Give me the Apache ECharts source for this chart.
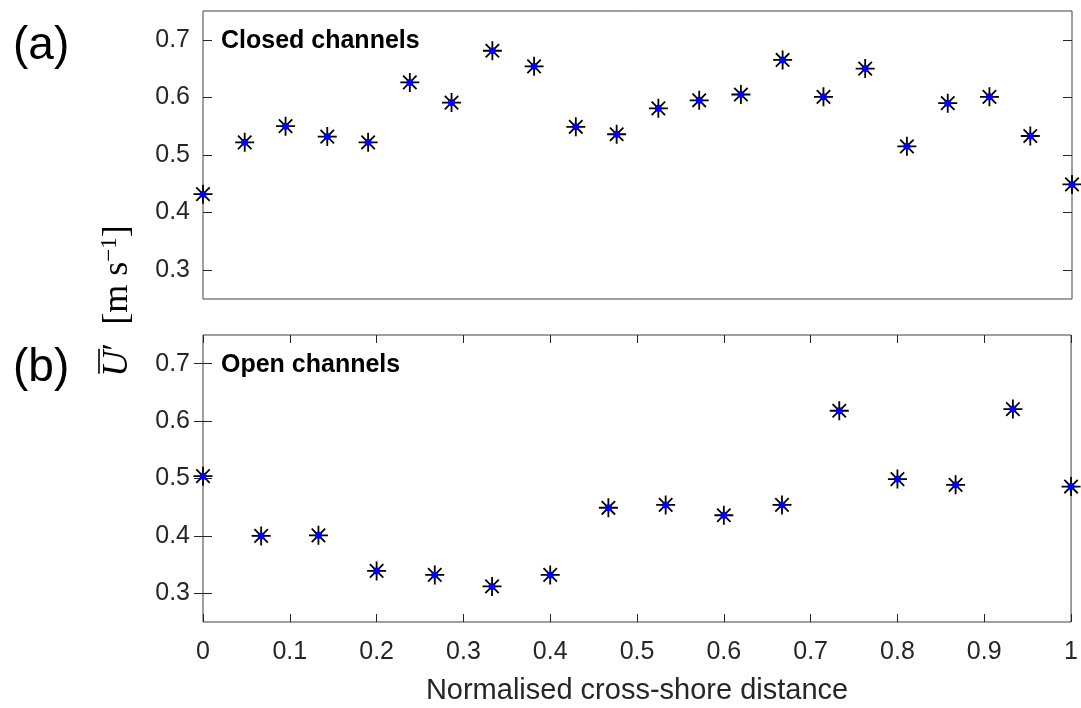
<!DOCTYPE html>
<html>
<head>
<meta charset="utf-8">
<script src="https://cdn.jsdelivr.net/npm/echarts@6/dist/echarts.min.js"></script>
<style>
  html, body { margin: 0; padding: 0; background: #fff; }
  #chart { width: 1081px; height: 708px; }
</style>
</head>
<body>
<div id="chart"></div>
<script>
// normalised cross-shore position of each channel
const closedX = [0, 0.048, 0.095, 0.143, 0.190, 0.238, 0.286, 0.333, 0.381, 0.429, 0.476,
  0.524, 0.571, 0.619, 0.667, 0.714, 0.762, 0.810, 0.857, 0.905, 0.952, 1]
const closedU = [0.432, 0.522, 0.550, 0.532, 0.522, 0.626, 0.591, 0.681, 0.654, 0.549, 0.536,
  0.581, 0.595, 0.605, 0.665, 0.601, 0.650, 0.515, 0.590, 0.601, 0.533, 0.449]

const openX = [0, 0.067, 0.133, 0.2, 0.267, 0.333, 0.4, 0.467, 0.533, 0.6, 0.667, 0.733,
  0.8, 0.867, 0.933, 1]
const openU = [0.504, 0.400, 0.401, 0.339, 0.332, 0.312, 0.332, 0.449, 0.454, 0.436, 0.454,
  0.618, 0.499, 0.489, 0.621, 0.486]

const yTicks = [0.3, 0.4, 0.5, 0.6, 0.7]

const axisColor = '#262626'
const star = 'path://M10,0L10,20M0,10L20,10M2.93,2.93L17.07,17.07M2.93,17.07L17.07,2.93'

const chart = echarts.init(document.getElementById('chart'))

const pairs = (xs, ys) => xs.map((x, i) => [x, ys[i]])

const yAxisFor = (gridIndex, position) => ({
  type: 'value',
  gridIndex: gridIndex,
  position: position,
  min: 0.25,
  max: 0.75,
  axisLine: { show: false },
  splitLine: { show: false },
  axisTick: {
    show: true, inside: true, length: 9,
    customValues: yTicks,
    lineStyle: { color: axisColor, width: 1 }
  },
  axisLabel: {
    show: position === 'left',
    customValues: yTicks,
    color: axisColor,
    fontSize: 25,
    fontFamily: 'Liberation Sans',
    margin: 13
  }
})

const starSeries = (xAxisIndex, yAxisIndex, data) => ({
  type: 'scatter',
  xAxisIndex: xAxisIndex,
  yAxisIndex: yAxisIndex,
  data: data,
  clip: false,
  symbol: star,
  symbolSize: 19,
  itemStyle: { color: 'rgba(0,0,0,0)', borderColor: '#000', borderWidth: 1.8, opacity: 1 },
  emphasis: { disabled: true },
  z: 3
})

const dotSeries = (xAxisIndex, yAxisIndex, data) => ({
  type: 'scatter',
  xAxisIndex: xAxisIndex,
  yAxisIndex: yAxisIndex,
  data: data,
  clip: false,
  symbol: 'circle',
  symbolSize: 7,
  itemStyle: { color: '#0000ff', opacity: 1 },
  emphasis: { disabled: true },
  z: 4
})

// y label  U-bar' [m s^-1], built as a rotated group of text pieces
const ctx = document.createElement('canvas').getContext('2d')
const measure = (text, font) => { ctx.font = font; return ctx.measureText(text).width }
const fIt = 'italic 36px "Liberation Serif"'
const fUp = '36px "Liberation Serif"'
const fSup = '23px "Liberation Serif"'
const pieces = [
  { t: 'U', f: fIt, base: 0 },
  { t: '\u2032', f: fUp, base: 0 },
  { t: '  [m s', f: fUp, base: 0 },
  { t: '\u22121', f: fSup, base: -15 },
  { t: ']', f: fUp, base: 0 }
]
const total = pieces.reduce((s, p) => s + measure(p.t, p.f), 0)
let cursor = -total / 2
const labelChildren = []
let uStart = 0, uEnd = 0
pieces.forEach((p, i) => {
  const w = measure(p.t, p.f)
  if (i === 0) { uStart = cursor; uEnd = cursor + w }
  labelChildren.push({
    type: 'text', x: cursor, y: p.base,
    style: { text: p.t, font: p.f, fill: '#000', align: 'left', verticalAlign: 'bottom' }
  })
  cursor += w
})
labelChildren.push({
  type: 'line',
  shape: { x1: uStart + 3, y1: -37, x2: uEnd + 2, y2: -37 },
  style: { stroke: '#000', lineWidth: 1.6 }
})

chart.setOption({
  backgroundColor: '#fff',
  animation: false,
  grid: [
    { left: 203, top: 11, width: 869, height: 288, show: true, borderColor: '#404040', borderWidth: 1 },
    { left: 203, top: 335, width: 869, height: 287, show: true, borderColor: '#404040', borderWidth: 1 }
  ],
  xAxis: [
    {
      type: 'value', gridIndex: 0, min: 0, max: 1, interval: 0.1,
      axisLine: { show: false }, axisTick: { show: false },
      axisLabel: { show: false }, splitLine: { show: false }
    },
    {
      type: 'value', gridIndex: 1, min: 0, max: 1, interval: 0.1, position: 'bottom',
      axisLine: { show: false }, splitLine: { show: false },
      axisTick: { inside: true, length: 8, lineStyle: { color: axisColor } },
      axisLabel: { color: axisColor, fontSize: 25, fontFamily: 'Liberation Sans', margin: 18 },
      name: 'Normalised cross-shore distance',
      nameLocation: 'middle',
      nameGap: 54,
      nameTextStyle: { color: axisColor, fontSize: 29, fontFamily: 'Liberation Sans' }
    },
    {
      type: 'value', gridIndex: 1, min: 0, max: 1, interval: 0.1, position: 'top',
      axisLine: { show: false }, splitLine: { show: false },
      axisTick: { inside: true, length: 8, lineStyle: { color: axisColor } },
      axisLabel: { show: false }
    }
  ],
  yAxis: [
    yAxisFor(0, 'left'),
    yAxisFor(0, 'right'),
    yAxisFor(1, 'left'),
    yAxisFor(1, 'right')
  ],
  series: [
    starSeries(0, 0, pairs(closedX, closedU)),
    dotSeries(0, 0, pairs(closedX, closedU)),
    starSeries(1, 2, pairs(openX, openU)),
    dotSeries(1, 2, pairs(openX, openU))
  ],
  graphic: [
    {
      type: 'text', left: 13, top: 23,
      style: { text: '(a)', font: '46px "Liberation Sans"', fill: '#000' }
    },
    {
      type: 'text', left: 13, top: 345,
      style: { text: '(b)', font: '46px "Liberation Sans"', fill: '#000' }
    },
    {
      type: 'text', left: 221, top: 29,
      style: { text: 'Closed channels', font: 'bold 25px "Liberation Sans"', fill: '#000' }
    },
    {
      type: 'text', left: 221, top: 353,
      style: { text: 'Open channels', font: 'bold 25px "Liberation Sans"', fill: '#000' }
    },
    {
      type: 'group',
      x: 136, y: 301,
      rotation: Math.PI / 2,
      children: labelChildren
    }
  ]
})
</script>
</body>
</html>
